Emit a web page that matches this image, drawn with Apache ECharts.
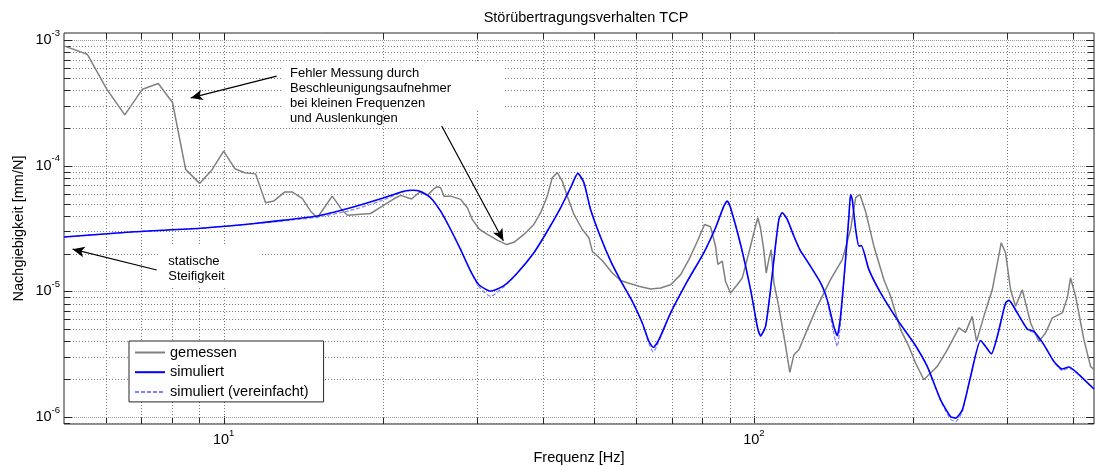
<!DOCTYPE html>
<html>
<head>
<meta charset="utf-8">
<title>Störübertragungsverhalten TCP</title>
<script src="https://cdn.jsdelivr.net/npm/echarts@6/dist/echarts.min.js"></script>
<style>
  html, body { margin: 0; padding: 0; background: #fff; }
  #chart { width: 1095px; height: 466px; }
</style>
</head>
<body>
<div id="chart"></div>
<script>
// Achsbereiche (Hz, mm/N)
var X_MIN = 5, X_MAX = 438;
var Y_MIN = 8.8e-7, Y_MAX = 1.14e-3;

// gemessen
var measuredFreq = [5.0, 5.53, 6.02, 6.51, 7.03, 7.53, 8.01, 8.48, 9.01, 9.52,
  10.0, 10.5, 10.95, 11.49, 12.0, 12.44, 13.03, 13.48, 14.07, 14.59,
  15.02, 16.03, 16.74, 17.13, 18.93, 19.92, 20.95, 21.57, 22.62, 23.42,
  24.22, 24.93, 25.29, 25.66, 26.03, 26.8, 27.99, 28.82, 29.44, 30.3,
  31.43, 32.82, 34.18, 35.28, 36.84, 38.47, 39.61, 40.77, 41.67, 42.59,
  43.52, 44.48, 45.78, 47.48, 48.86, 49.58, 51.76, 54.08, 56.07, 57.73,
  60.7, 63.86, 66.7, 69.67, 72.76, 75.43, 78.24, 80.72, 82.85, 84.67,
  85.52, 87.17, 88.42, 90.37, 93.03, 95.08, 97.86, 100, 101.7, 102.9,
  104.4, 105.5, 106.7, 107.8, 109.1, 111.4, 114.8, 116.9, 119.0, 121.6,
  126.1, 131.7, 139.5, 146.8, 152.2, 155.6, 158.5, 162.4, 168.4, 175.9,
  181.1, 189.1, 196.0, 201.8, 209.2, 215.4, 221.8, 231.6, 243.6, 250.7,
  258.1, 263.0, 271.5, 281.6, 292.8, 298.3, 304.9, 311.6, 320.8, 332.6,
  344.8, 354.9, 365.4, 381.6, 390.0, 395.6, 404.4, 419.2, 431.5, 438];
var measuredVal = [9.0e-4, 7.73e-4, 4.07e-4, 2.54e-4, 4.07e-4, 4.52e-4, 3.19e-4, 9.36e-5, 7.24e-5, 9.36e-5,
  1.31e-4, 9.48e-5, 8.81e-5, 8.62e-5, 5.08e-5, 5.25e-5, 6.17e-5, 6.17e-5, 5.51e-5, 4.35e-5,
  3.86e-5, 5.73e-5, 4.41e-5, 4.04e-5, 4.17e-5, 4.77e-5, 5.46e-5, 5.81e-5, 5.44e-5, 6.19e-5,
  5.81e-5, 6.57e-5, 6.81e-5, 6.69e-5, 5.73e-5, 5.73e-5, 5.40e-5, 4.63e-5, 3.74e-5, 3.15e-5,
  2.84e-5, 2.56e-5, 2.36e-5, 2.46e-5, 2.84e-5, 3.41e-5, 4.23e-5, 5.73e-5, 8.04e-5, 8.81e-5,
  7.55e-5, 5.73e-5, 4.10e-5, 3.11e-5, 2.67e-5, 2.09e-5, 1.76e-5, 1.40e-5, 1.22e-5, 1.17e-5,
  1.10e-5, 1.047e-5, 1.066e-5, 1.13e-5, 1.36e-5, 1.79e-5, 2.51e-5, 3.41e-5, 3.27e-5, 2.29e-5,
  1.64e-5, 1.74e-5, 1.20e-5, 9.72e-6, 1.13e-5, 1.28e-5, 2.03e-5, 2.93e-5, 3.86e-5, 3.21e-5,
  2.15e-5, 1.40e-5, 1.79e-5, 2.15e-5, 1.17e-5, 7.61e-6, 3.65e-6, 2.27e-6, 3.13e-6, 3.43e-6,
  4.96e-6, 7.61e-6, 1.24e-5, 1.79e-5, 3.11e-5, 5.57e-5, 5.91e-5, 4.35e-5, 2.29e-5, 1.24e-5,
  9.14e-6, 4.96e-6, 3.65e-6, 2.69e-6, 1.98e-6, 2.24e-6, 2.53e-6, 3.43e-6, 5.12e-6, 4.72e-6,
  6.33e-6, 4.00e-6, 6.33e-6, 1.03e-5, 2.44e-5, 2.03e-5, 1.03e-5, 7.61e-6, 1.03e-5, 5.61e-6,
  4.00e-6, 4.67e-6, 6.15e-6, 6.74e-6, 8.88e-6, 1.28e-5, 9.14e-6, 4.13e-6, 2.53e-6, 2.38e-6];

// simuliert / simuliert (vereinfacht), gleiche Frequenzen
var simFreq = [5.0, 6.78, 9.05, 11.41, 12.99, 15.02, 17.36, 19.78, 21.88, 22.69,
  23.52, 24.56, 25.66, 26.8, 27.99, 29.23, 30.3, 31.88, 33.78, 35.8,
  38.47, 40.77, 43.2, 45.12, 46.57, 47.81, 49.21, 51.38, 53.7, 56.07,
  58.99, 61.6, 63.4, 64.6, 66.2, 69.67, 74.87, 80.46, 84.67, 87.78,
  89.09, 90.37, 94.4, 98.6, 101.5, 102.9, 105.2, 107.5, 109.9, 111.5,
  113.1, 115.6, 119.0, 122.5, 124.3, 133.6, 137.5, 141.5, 143.6, 145.7,
  148.9, 151.1, 152.2, 153.3, 155.6, 157.8, 159.4, 164.8, 173.4, 186.4,
  200.3, 212.3, 225.0, 234.9, 240.1, 247.2, 256.3, 267.6, 273.5, 280.4,
  287.8, 298.3, 302.6, 313.9, 327.9, 337.3, 352.3, 368.0, 381.6, 392.6,
  407.3, 438];
var simVal = [2.71e-5, 2.98e-5, 3.18e-5, 3.47e-5, 3.69e-5, 3.98e-5, 4.63e-5, 5.46e-5, 6.28e-5, 6.39e-5,
  6.25e-5, 5.57e-5, 4.35e-5, 3.11e-5, 2.15e-5, 1.45e-5, 1.13e-5, 1.006e-5, 1.11e-5, 1.40e-5,
  2.03e-5, 3.01e-5, 4.63e-5, 6.69e-5, 8.70e-5, 7.33e-5, 4.49e-5, 2.71e-5, 1.74e-5, 1.22e-5,
  8.34e-6, 5.61e-6, 4.00e-6, 3.58e-6, 4.13e-6, 6.74e-6, 1.20e-5, 2.03e-5, 3.21e-5, 4.77e-5,
  5.25e-5, 4.63e-5, 2.36e-5, 1.03e-5, 5.27e-6, 4.44e-6, 5.27e-6, 1.03e-5, 2.36e-5, 3.74e-5,
  4.23e-5, 3.74e-5, 2.75e-5, 2.09e-5, 1.91e-5, 1.17e-5, 8.60e-6, 5.27e-6, 4.44e-6, 6.33e-6,
  1.79e-5, 3.97e-5, 5.91e-5, 5.40e-5, 3.11e-5, 2.29e-5, 2.32e-5, 1.49e-5, 9.72e-6, 5.96e-6,
  3.88e-6, 2.53e-6, 1.37e-6, 1.01e-6, 9.8e-7, 1.14e-6, 2.10e-6, 4.07e-6, 3.65e-6, 3.19e-6,
  4.38e-6, 8.1e-6, 8.49e-6, 6.74e-6, 5.02e-6, 4.81e-6, 3.77e-6, 2.77e-6, 2.41e-6, 2.50e-6,
  2.24e-6, 1.67e-6];
var simpleVal = [2.71e-5, 2.98e-5, 3.18e-5, 3.45e-5, 3.64e-5, 3.90e-5, 4.41e-5, 5.25e-5, 6.22e-5, 6.39e-5,
  6.25e-5, 5.57e-5, 4.35e-5, 3.11e-5, 2.15e-5, 1.45e-5, 1.09e-5, 9.14e-6, 1.09e-5, 1.40e-5,
  2.03e-5, 3.01e-5, 4.63e-5, 6.69e-5, 8.70e-5, 7.33e-5, 4.49e-5, 2.71e-5, 1.74e-5, 1.22e-5,
  8.34e-6, 5.61e-6, 3.85e-6, 3.29e-6, 4.0e-6, 6.74e-6, 1.20e-5, 2.03e-5, 3.21e-5, 4.77e-5,
  5.25e-5, 4.63e-5, 2.36e-5, 1.03e-5, 5.2e-6, 4.35e-6, 5.2e-6, 1.03e-5, 2.36e-5, 3.74e-5,
  4.23e-5, 3.74e-5, 2.75e-5, 2.09e-5, 1.91e-5, 1.17e-5, 8.40e-6, 4.6e-6, 3.65e-6, 5.6e-6,
  1.79e-5, 3.97e-5, 5.91e-5, 5.40e-5, 3.11e-5, 2.29e-5, 2.32e-5, 1.49e-5, 9.72e-6, 5.96e-6,
  3.88e-6, 2.53e-6, 1.35e-6, 9.6e-7, 9.2e-7, 1.1e-6, 2.10e-6, 4.07e-6, 3.65e-6, 3.19e-6,
  4.38e-6, 8.1e-6, 8.49e-6, 6.74e-6, 4.95e-6, 4.70e-6, 3.77e-6, 2.77e-6, 2.35e-6, 2.45e-6,
  2.24e-6, 1.67e-6];

// Gitterlinien (log, Haupt- und Nebenteilung)
var xGridTicks = [6, 7, 8, 9, 10, 20, 30, 40, 50, 60, 70, 80, 90, 100, 200, 300, 400];
var yGridTicks = [9e-7, 1e-6, 2e-6, 3e-6, 4e-6, 5e-6, 6e-6, 7e-6, 8e-6, 9e-6,
  1e-5, 2e-5, 3e-5, 4e-5, 5e-5, 6e-5, 7e-5, 8e-5, 9e-5,
  1e-4, 2e-4, 3e-4, 4e-4, 5e-4, 6e-4, 7e-4, 8e-4, 9e-4, 1e-3];

// Pfeile (Anfang -> Spitze)
var arrowFrom = [[12.59, 5.17e-4], [25.78, 2.07e-4], [7.48, 1.48e-5]];
var arrowTo = [[8.67, 3.47e-4], [33.7, 2.53e-5], [5.19, 2.17e-5]];

var legendNames = ['gemessen', 'simuliert', 'simuliert (vereinfacht)'];
var noteMessung = 'Fehler Messung durch\nBeschleunigungsaufnehmer\nbei kleinen Frequenzen\nund Auslenkungen';
var noteStatisch = 'statische\nSteifigkeit';

var FONT = "'Liberation Sans', Arial, Helvetica, sans-serif";

function zip(xs, ys){
  var out = [];
  for (var i = 0; i < xs.length; i++) out.push([xs[i], ys[i]]);
  return out;
}

function isMajor(v){
  var l = Math.log10(v);
  return Math.abs(l - Math.round(l)) < 1e-6;
}

function powLabel(v){
  var e = Math.round(Math.log10(v));
  return '{b|10}{e|' + e + '}';
}
// Hochstellung: b unten, e oben in einer 20px-Zeile
var powRich = {
  b: {fontSize: 14.5, fontFamily: FONT, color: '#000', height: 16, lineHeight: 20, verticalAlign: 'bottom'},
  e: {fontSize: 9.5, fontFamily: FONT, color: '#000', height: 10, lineHeight: 20, verticalAlign: 'top'}
};

function crisp(p){ return Math.round(p) + 0.5; }

function renderXGrid(params, api){
  var cs = params.coordSys;
  var v = api.value(0);
  var x = crisp(api.coord([v, Y_MIN])[0]);
  var len = isMajor(v) ? 8 : 6;
  var top = cs.y, bot = cs.y + cs.height;
  return {type: 'group', children: [
    {type: 'line', shape: {x1: x, y1: top, x2: x, y2: bot},
      style: {stroke: '#7a7a7a', lineWidth: 1, lineDash: [1, 2]}},
    {type: 'line', shape: {x1: x, y1: bot, x2: x, y2: bot - len}, style: {stroke: '#262626', lineWidth: 1}},
    {type: 'line', shape: {x1: x, y1: top, x2: x, y2: top + len}, style: {stroke: '#262626', lineWidth: 1}}
  ]};
}

function renderYGrid(params, api){
  var cs = params.coordSys;
  var v = api.value(1);
  var y = crisp(api.coord([X_MIN, v])[1]);
  var len = isMajor(v) ? 8 : 6;
  var left = cs.x, right = cs.x + cs.width;
  return {type: 'group', children: [
    {type: 'line', shape: {x1: left, y1: y, x2: right, y2: y},
      style: {stroke: isMajor(v) ? '#9a9a9a' : '#7a7a7a', lineWidth: 1, lineDash: isMajor(v) ? [1, 1] : [1, 2]}},
    {type: 'line', shape: {x1: left, y1: y, x2: left + len, y2: y}, style: {stroke: '#262626', lineWidth: 1}},
    {type: 'line', shape: {x1: right, y1: y, x2: right - len, y2: y}, style: {stroke: '#262626', lineWidth: 1}}
  ]};
}

var chart = echarts.init(document.getElementById('chart'), null, {renderer: 'canvas'});

var option = {
  animation: false,
  backgroundColor: '#fff',
  title: {
    text: 'Störübertragungsverhalten TCP',
    left: 581, top: 5, textAlign: 'center',
    textStyle: {fontSize: 14.5, fontWeight: 'normal', color: '#000', fontFamily: FONT}
  },
  grid: {left: 64, right: 1, top: 33, bottom: 42, outerBoundsMode: 'none',
    show: true, borderColor: '#262626', borderWidth: 1},
  legend: {
    orient: 'vertical', left: 129, top: 341,
    itemWidth: 30, itemHeight: 16, itemGap: 3.7,
    padding: [3.5, 15, 2, 5],
    borderColor: '#262626', borderWidth: 1, borderRadius: 0, backgroundColor: '#fff',
    itemStyle: {opacity: 0},
    textStyle: {fontSize: 14.5, lineHeight: 16, color: '#000', fontFamily: FONT},
    data: legendNames
  },
  xAxis: {
    type: 'log', logBase: 10, min: X_MIN, max: X_MAX,
    axisLine: {show: false}, axisTick: {show: false}, splitLine: {show: false},
    axisLabel: {margin: 4, showMinLabel: false, showMaxLabel: false, formatter: powLabel, rich: powRich},
    name: 'Frequenz [Hz]', nameLocation: 'middle', nameGap: 26, nameMoveOverlap: false,
    nameTextStyle: {fontSize: 14.5, color: '#000', fontFamily: FONT}
  },
  yAxis: {
    type: 'log', logBase: 10, min: Y_MIN, max: Y_MAX,
    axisLine: {show: false}, axisTick: {show: false}, splitLine: {show: false},
    axisLabel: {margin: 4, padding: [0, 0, 4, 0], showMinLabel: false, showMaxLabel: false, formatter: powLabel, rich: powRich},
    name: 'Nachgiebigkeit [mm/N]', nameLocation: 'middle', nameGap: 38, nameMoveOverlap: false,
    nameTextStyle: {fontSize: 14.5, color: '#000', fontFamily: FONT}
  },
  graphic: [
    {type: 'rect', z: 2, shape: {x: 283, y: 62, width: 222, height: 48}, style: {fill: '#fff'}},
    {type: 'rect', z: 2, shape: {x: 160, y: 246, width: 102, height: 42}, style: {fill: '#fff'}},
    {type: 'text', z: 3, x: 290, y: 65.8,
      style: {text: noteMessung, fontSize: 13, fontFamily: FONT, fill: '#000', lineHeight: 15, align: 'left', verticalAlign: 'top'}},
    {type: 'text', z: 3, x: 168.3, y: 253.5,
      style: {text: noteStatisch, fontSize: 13, fontFamily: FONT, fill: '#000', lineHeight: 15, align: 'left', verticalAlign: 'top'}}
  ],
  series: [
    {type: 'custom', name: 'xgrid', silent: true, z: 1, renderItem: renderXGrid,
      data: xGridTicks.map(function(v){ return [v, Y_MIN]; })},
    {type: 'custom', name: 'ygrid', silent: true, z: 1, renderItem: renderYGrid,
      data: yGridTicks.map(function(v){ return [X_MIN, v]; })},
    {type: 'line', name: 'gemessen', z: 4, showSymbol: false, symbol: 'none',
      lineStyle: {color: '#808080', width: 1.5}, itemStyle: {color: '#808080'},
      data: zip(measuredFreq, measuredVal)},
    {type: 'line', name: 'simuliert', z: 6, showSymbol: false, symbol: 'none', smooth: 0.2,
      lineStyle: {color: '#0000ff', width: 1.6}, itemStyle: {color: '#0000ff'},
      data: zip(simFreq, simVal)},
    {type: 'line', name: 'simuliert (vereinfacht)', z: 5, showSymbol: false, symbol: 'none', smooth: 0.2,
      lineStyle: {color: '#8080ff', width: 1.2, type: [4, 2]}, itemStyle: {color: '#8080ff'},
      data: zip(simFreq, simpleVal)},
    {type: 'line', name: 'pfeile', z: 7, silent: true, data: [],
      markLine: {
        silent: true, animation: false,
        symbol: ['none', 'arrow'], symbolSize: [8, 12],
        label: {show: false},
        lineStyle: {color: '#000', width: 1.2, type: 'solid'},
        data: arrowFrom.map(function(p, i){ return [{coord: p}, {coord: arrowTo[i]}]; })
      }}
  ]
};

chart.setOption(option);
</script>
</body>
</html>
